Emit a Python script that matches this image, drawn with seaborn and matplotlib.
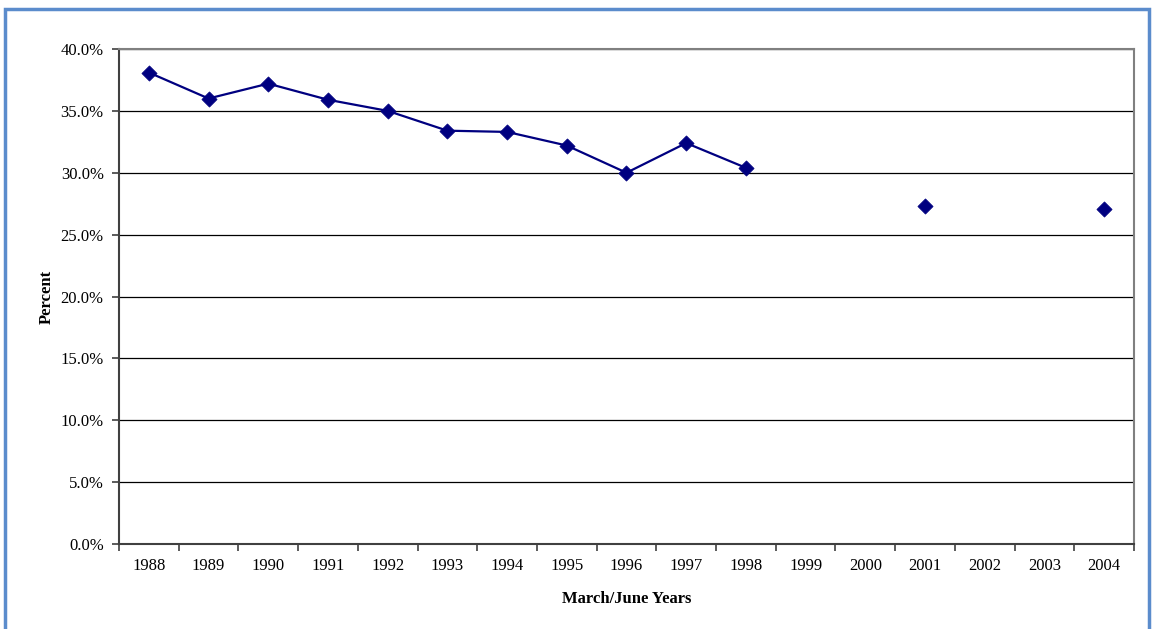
import numpy as np
import pandas as pd
import matplotlib
matplotlib.use("Agg")
import matplotlib.pyplot as plt
import seaborn as sns
from matplotlib.patches import Rectangle
from matplotlib.ticker import FixedLocator, FuncFormatter

# ---- data ----
years = ["1988", "1989", "1990", "1991", "1992", "1993", "1994", "1995", "1996",
         "1997", "1998", "1999", "2000", "2001", "2002", "2003", "2004"]
percent = [38.1, 36.0, 37.2, 35.9, 35.0, 33.4, 33.3, 32.2, 30.0,
           32.4, 30.4, np.nan, np.nan, 27.3, np.nan, np.nan, 27.1]
y_ticks = [0, 5, 10, 15, 20, 25, 30, 35, 40]

df = pd.DataFrame({"year": years, "percent": percent})
df["pos"] = np.arange(len(df))
# break the line wherever a year is missing
df["segment"] = df["percent"].isna().cumsum()
pts = df.dropna()

sns.set_style("white")
plt.rcParams["font.family"] = ["Liberation Serif", "DejaVu Serif"]
plt.rcParams["text.color"] = "black"
plt.rcParams["axes.labelcolor"] = "black"
plt.rcParams["xtick.color"] = "black"
plt.rcParams["ytick.color"] = "black"

fig = plt.figure(figsize=(11.53, 6.29), dpi=100)
ax = fig.add_axes([0.1032, 0.1351, 0.8803, 0.7870])

navy = "#000080"
sns.lineplot(data=pts, x="pos", y="percent", units="segment", estimator=None,
             color=navy, linewidth=1.6, ax=ax, legend=False)
sns.scatterplot(data=pts, x="pos", y="percent", marker="D", s=60, color=navy,
                edgecolor=navy, linewidth=0.5, ax=ax, legend=False, zorder=5)

ax.set_xlim(-0.5, len(years) - 0.5)
ax.set_ylim(0, 40)
ax.set_yticks(y_ticks)
ax.yaxis.set_major_formatter(FuncFormatter(lambda v, _: f"{v:.1f}%"))
ax.set_xticks(df["pos"])
ax.set_xticklabels(years)
ax.xaxis.set_minor_locator(FixedLocator(np.arange(-0.5, len(years), 1.0)))
ax.tick_params(axis="x", which="major", bottom=True, length=0, pad=10,
               labelsize=12, labelcolor="black")
ax.tick_params(axis="x", which="minor", bottom=True, length=5, width=1.2,
               color="#404040", direction="out")
ax.tick_params(axis="y", left=True, length=5, width=1.2, color="#404040",
               direction="out", pad=6, labelsize=12, labelcolor="black")

ax.grid(axis="y", color="black", linewidth=0.9)
ax.set_axisbelow(True)
for side in ["top", "right"]:
    ax.spines[side].set_visible(True)
    ax.spines[side].set_color("#808080")
    ax.spines[side].set_linewidth(1.5)
for side in ["left", "bottom"]:
    ax.spines[side].set_visible(True)
    ax.spines[side].set_color("#404040")
    ax.spines[side].set_linewidth(1.5)

ax.set_xlabel("March/June Years", fontweight="bold", fontsize=12, labelpad=12)
ax.set_ylabel("Percent", fontweight="bold", fontsize=12, labelpad=4)

# outer chart border
fig.patches.append(Rectangle((5 / 1153, -0.1), 1144 / 1153, 1.1 - 9 / 629,
                             transform=fig.transFigure, fill=False,
                             edgecolor="#5b8ccc", linewidth=2.5))

fig.savefig("out.png", dpi=100)
